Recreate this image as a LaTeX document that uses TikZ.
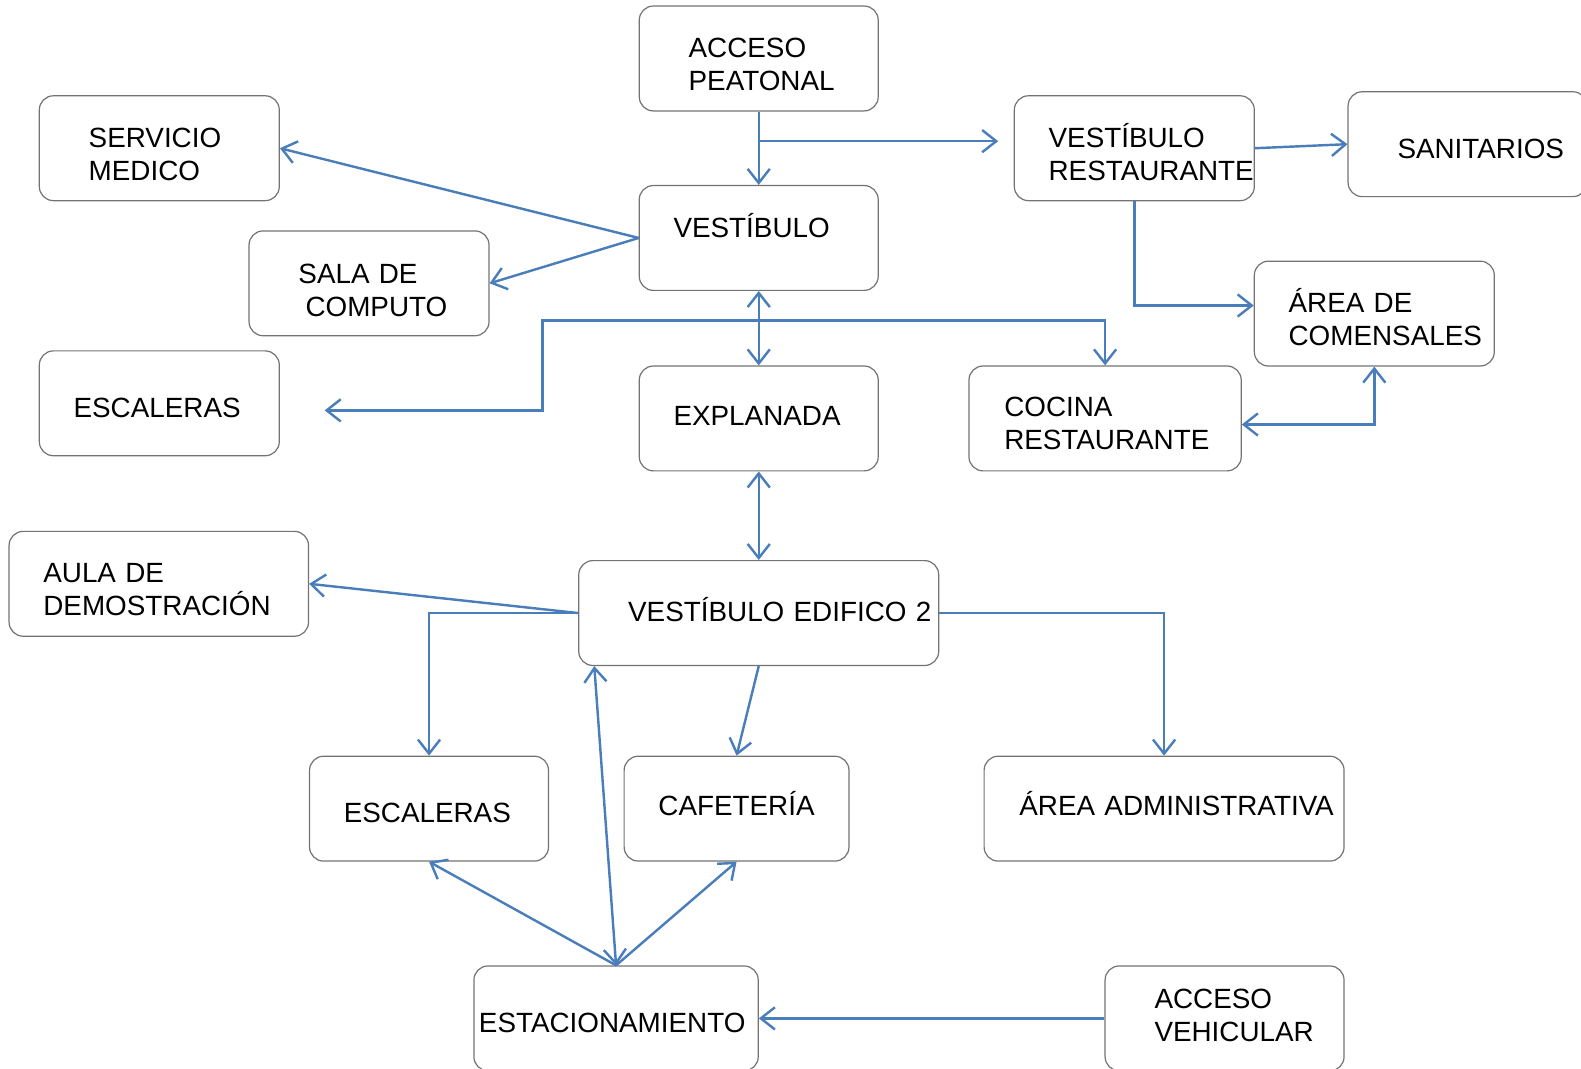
\documentclass[tikz,border=0pt]{standalone}
\usepackage{fontspec}
\setmainfont{Liberation Sans}
\usetikzlibrary{arrows.meta}
\definecolor{azul}{HTML}{4A7EBB}
\hyphenpenalty=10000
\exhyphenpenalty=10000

\begin{document}
\begin{tikzpicture}[x=0.5pt, y=-0.5pt,
    caja/.style={draw=black!55, line width=0.6pt, rounded corners=7pt, minimum height=52pt, align=left, font=\fontsize{13.8}{16.5}\selectfont},
    alto/.style 2 args={text height=#1, text depth=#2},
    flecha/.style={draw=azul, line width=1.2pt, -{Straight Barb[length=7pt, width=11pt]}},
    flechas/.style={draw=azul, line width=1.2pt, {Straight Barb[length=7pt, width=11pt]}-{Straight Barb[length=7pt, width=11pt]}}]
            \useasboundingbox (0, 0) rectangle (1568, 1060);

            \node[caja, alto={0pt}{1.1pt}, text width=69.5pt, inner xsep=24.5pt] (AP) at (752.5, 58) {ACCESO\\PEATONAL};
            \node[caja, alto={0pt}{1.1pt}, text width=70pt, inner xsep=24.5pt] (SM) at (158, 147) {SERVICIO\\MEDICO};
            \node[caja, alto={0pt}{0.1pt}, text width=84.5pt, inner xsep=17pt] (VE) at (752.5, 236) {VESTÍBULO};
            \node[caja, alto={0pt}{0.1pt}, text width=70pt, inner xsep=24.5pt] (SC) at (366, 281) {SALA~DE\\\hbox{\kern3.5pt COMPUTO}};
            \node[caja, alto={13.9pt}{0pt}, text width=85pt, inner xsep=17pt] (ES) at (158, 400) {ESCALERAS};
            \node[caja, alto={6.9pt}{0pt}, text width=84.5pt, inner xsep=17pt] (EX) at (752.5, 415) {EXPLANADA};
            \node[caja, alto={0pt}{1.1pt}, text width=85pt, inner xsep=17pt] (VR) at (1125, 147) {VESTÍBULO\\RESTAURANTE};
            \node[caja, alto={13.9pt}{0pt}, text width=69.5pt, inner xsep=24.5pt] (SA) at (1455.5, 143) {SANITARIOS};
            \node[caja, alto={0pt}{1.1pt}, text width=85pt, inner xsep=17pt] (AC) at (1363, 311) {ÁREA~DE\\COMENSALES};
            \node[caja, alto={0pt}{2.1pt}, text width=100pt, inner xsep=17.5pt] (CR) at (1096, 415) {COCINA\\RESTAURANTE};
            \node[caja, alto={0pt}{1.1pt}, text width=114.5pt, inner xsep=17pt] (AD) at (157.5, 579) {AULA~DE\\DEMOSTRACIÓN};
            \node[caja, alto={7.9pt}{0pt}, text width=129.5pt, inner xsep=24.5pt] (VE2) at (752.5, 608) {VESTÍBULO~EDIFICO~2};
            \node[caja, alto={13.9pt}{0pt}, text width=84.5pt, inner xsep=17pt] (ES2) at (425.5, 802) {ESCALERAS};
            \node[caja, alto={6.9pt}{0pt}, text width=77.5pt, inner xsep=17pt] (CF) at (730.5, 802) {CAFETERÍA};
            \node[caja, alto={6.9pt}{0pt}, text width=143.5pt, inner xsep=17.5pt] (AA) at (1154.5, 802) {ÁREA~ADMINISTRATIVA};
            \node[caja, alto={13.9pt}{0pt}, text width=136pt, inner xsep=2.5pt] (EST) at (611, 1010) {ESTACIONAMIENTO};
            \node[caja, alto={0pt}{10.1pt}, text width=69.5pt, inner xsep=24.5pt] (AV) at (1214.5, 1010) {ACCESO\\VEHICULAR};

            \coordinate (APr) at (752.5, 140);
            \coordinate (VRin) at (990, 140);
            \coordinate (ESin) at (322, 407);
            \coordinate (EXr) at (538, 318);

            \draw[flecha] (AP) -- (VE);
            \draw[flecha] (APr) -- (VRin);
            \draw[flecha] (VR.east) -- (SA.west);
            \draw[flecha] (VR.south) |- ([yshift=4pt]AC.west);
            \draw[flecha] (VE.west) -- (SM.east);
            \draw[flecha] (VE.west) -- (SC.east);
            \draw[flechas] (VE) -- (EX);
            \draw[flechas] (ESin) -| (EXr) -| (CR.north);
            \draw[flechas] ([yshift=-3pt]CR.east) -| (AC.south);
            \draw[flechas] (EX) -- (VE2);
            \draw[flecha] (VE2.west) -- (AD.east);
            \draw[flecha] (VE2.west) -| (ES2.north);
            \draw[flecha] (VE2.east) -| (AA.north);
            \draw[flecha] (VE2.south) -- (CF.north);
            \draw[flechas] (EST.north) -- ([xshift=8pt]VE2.south west);
            \draw[flecha] (EST.north) -- (ES2.south);
            \draw[flecha] (EST.north) -- (CF.south);
            \draw[flecha] (AV.west) -- (EST.east);
        \end{tikzpicture}
\end{document}
